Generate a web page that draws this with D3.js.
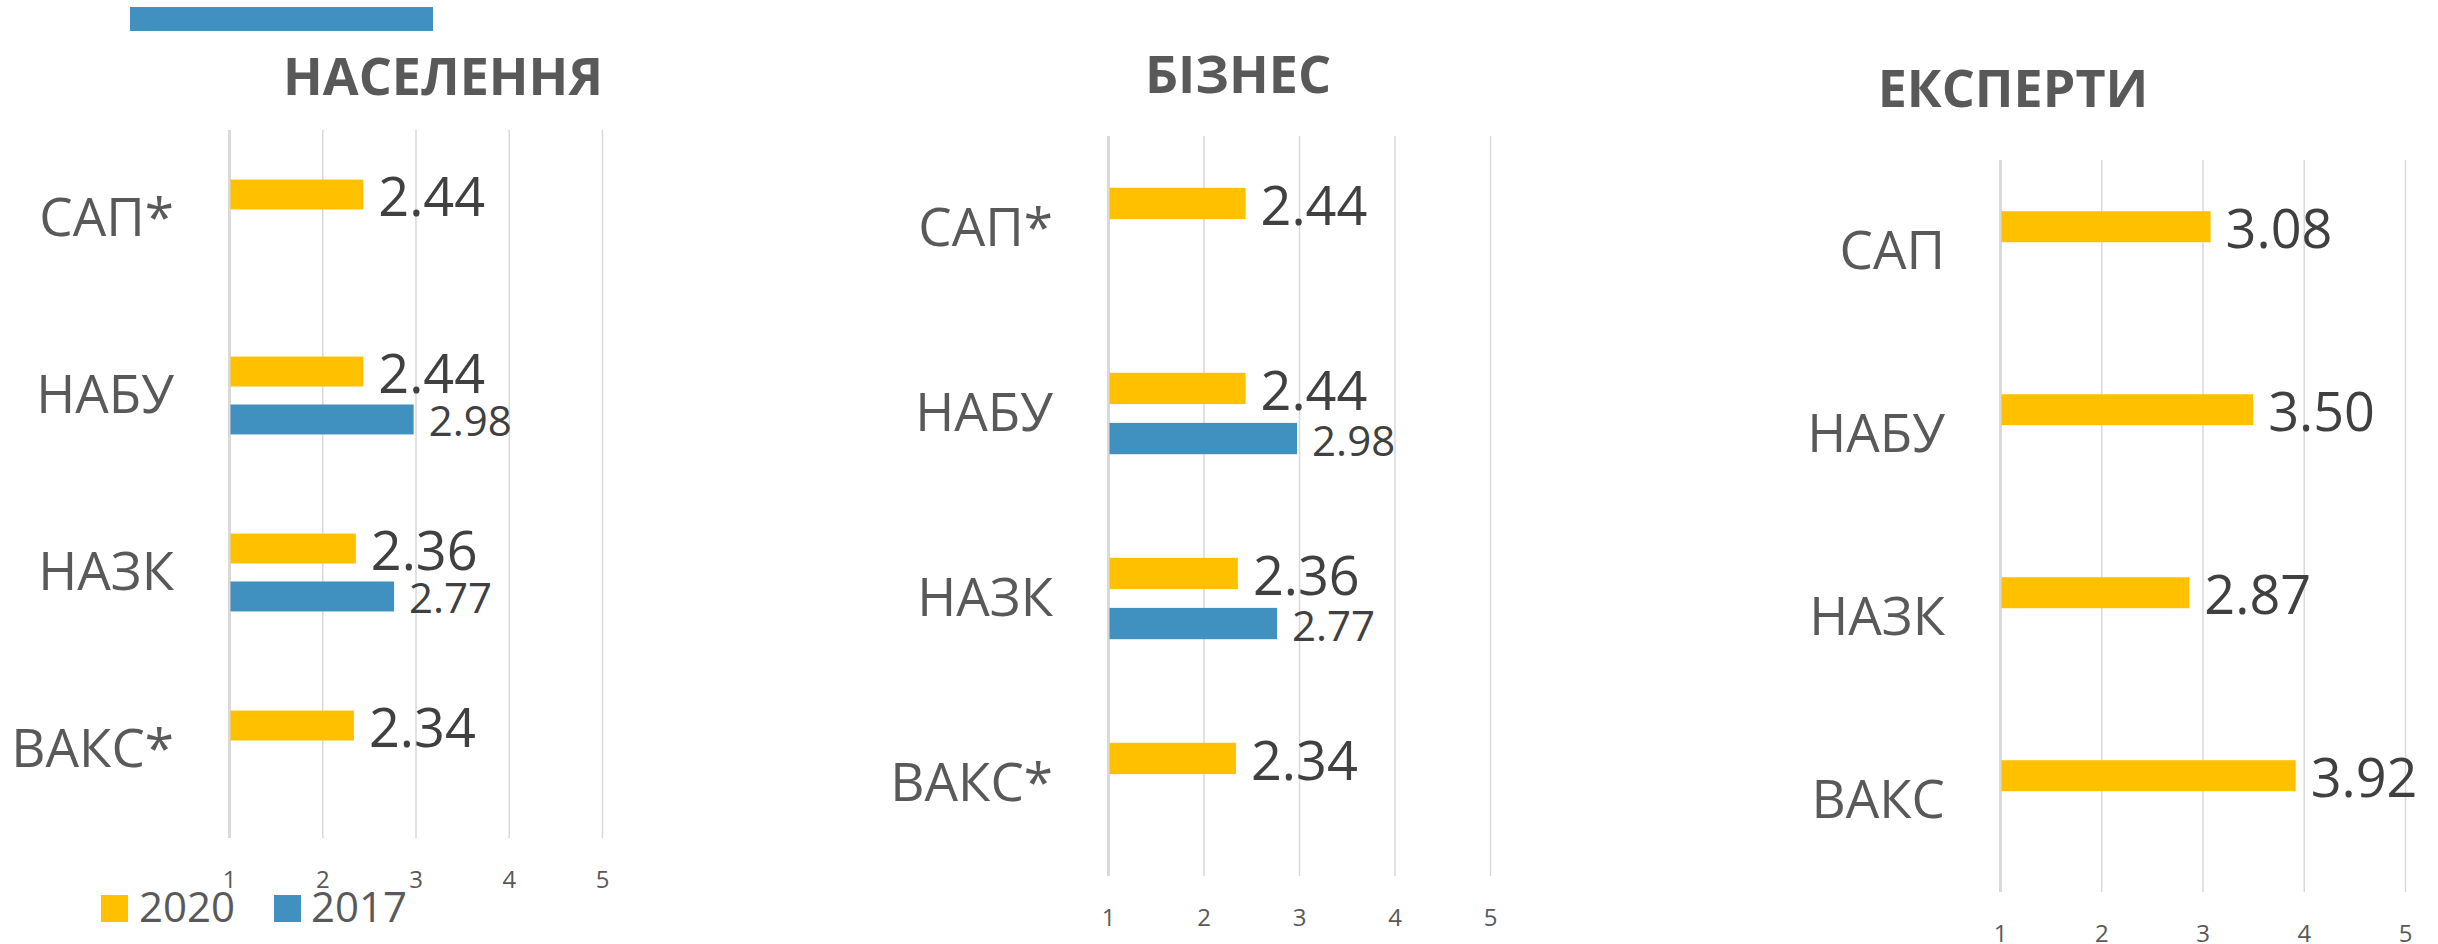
<!DOCTYPE html>
<html>
<head>
<meta charset="utf-8">
<script src="https://cdn.jsdelivr.net/npm/d3@7"></script>
<style>
  html, body { margin: 0; padding: 0; background: #ffffff; }
  svg { display: block; font-family: "Open Sans", sans-serif; }
</style>
</head>
<body>
<svg id="chart" width="2438" height="944"></svg>
<script>
// ---------------- DATA ----------------
const titles = ["НАСЕЛЕННЯ", "БІЗНЕС", "ЕКСПЕРТИ"];
const categoriesStar = ["САП*", "НАБУ", "НАЗК", "ВАКС*"];
const categoriesPlain = ["САП", "НАБУ", "НАЗК", "ВАКС"];
const seriesNames = ["2020", "2017"];
const population2020 = [2.44, 2.44, 2.36, 2.34];
const population2017 = [null, 2.98, 2.77, null];
const business2020 = [2.44, 2.44, 2.36, 2.34];
const business2017 = [null, 2.98, 2.77, null];
const experts2020 = [3.08, 3.50, 2.87, 3.92];
const experts2017 = [null, null, null, null];
const tickValues = [1, 2, 3, 4, 5];

// ---------------- STYLE / LAYOUT ----------------
const colors = { "2020": "#FFC000", "2017": "#4191C0" };
const gridColor = "#d9d9d9";
const labelColor = "#595959";
const valueColor = "#404040";

const panels = [
  { title: titles[0], cats: categoriesStar, s2020: population2020, s2017: population2017,
    x0: 229, x1: 602, y0: 130, y1: 838, titleX: 443, titleY: 95, legend: true },
  { title: titles[1], cats: categoriesStar, s2020: business2020, s2017: business2017,
    x0: 1108, x1: 1490, y0: 136, y1: 876, titleX: 1238, titleY: 93, legend: false },
  { title: titles[2], cats: categoriesPlain, s2020: experts2020, s2017: experts2017,
    x0: 2000, x1: 2405, y0: 160, y1: 892, titleX: 2013, titleY: 107, legend: false }
];

const svg = d3.select("#chart");
const fmt = d3.format(".2f");

// decorative blue strip at top-left (present in the original)
svg.append("rect")
  .attr("x", 130).attr("y", 7).attr("width", 303).attr("height", 24)
  .attr("fill", colors["2017"]);

panels.forEach(p => {
  const g = svg.append("g");
  const x = d3.scaleLinear().domain([1, 5]).range([p.x0, p.x1]);
  const y = d3.scaleBand().domain(p.cats).range([p.y0, p.y1]).padding(0);
  const B = y.bandwidth();
  const ySub = d3.scaleBand().domain(seriesNames)
    .range([B * 0.28, B * 0.72]).paddingInner(0.375).paddingOuter(0);

  // title
  g.append("text")
    .attr("x", p.titleX).attr("y", p.titleY)
    .attr("text-anchor", "middle")
    .attr("font-size", 52).attr("font-weight", 700)
    .attr("fill", labelColor)
    .text(p.title);

  // grid via axis
  const axis = d3.axisBottom(x).tickValues(tickValues).tickSize(-(p.y1 - p.y0)).tickFormat(d3.format("d"));
  const ax = g.append("g").attr("transform", `translate(0,${p.y1})`).call(axis);
  ax.select(".domain").remove();
  ax.selectAll(".tick line")
    .attr("stroke", gridColor)
    .attr("stroke-width", d => d === 1 ? 3 : 1.5);
  ax.selectAll(".tick text")
    .attr("y", 50).attr("dy", 0)
    .attr("font-size", 24).attr("font-family", "Open Sans")
    .attr("fill", labelColor);

  // category labels
  g.selectAll(".cat").data(p.cats).enter().append("text")
    .attr("x", p.x0 - 55)
    .attr("y", d => y(d) + B / 2 + 17)
    .attr("text-anchor", "end")
    .attr("font-size", 53)
    .attr("fill", labelColor)
    .text(d => d);

  // bars
  const rows = [];
  p.cats.forEach((c, i) => {
    if (p.s2020[i] != null) rows.push({ cat: c, s: "2020", v: p.s2020[i] });
    if (p.s2017[i] != null) rows.push({ cat: c, s: "2017", v: p.s2017[i] });
  });

  g.selectAll(".bar").data(rows).enter().append("rect")
    .attr("x", x(1) + 1.5)
    .attr("y", d => y(d.cat) + ySub(d.s))
    .attr("width", d => x(d.v) - x(1) - 1.5)
    .attr("height", ySub.bandwidth())
    .attr("fill", d => colors[d.s]);

  g.selectAll(".val").data(rows).enter().append("text")
    .attr("x", d => x(d.v) + 15)
    .attr("y", d => {
      const fs = d.s === "2020" ? 54 : 42;
      return y(d.cat) + ySub(d.s) + ySub.bandwidth() / 2 + fs * 0.357 + 2;
    })
    .attr("font-size", d => d.s === "2020" ? 54 : 42)
    .attr("fill", valueColor)
    .text(d => fmt(d.v));

  // legend
  if (p.legend) {
    const lg = g.append("g");
    const items = [
      { s: "2020", sx: 101, tx: 139 },
      { s: "2017", sx: 274, tx: 311 }
    ];
    items.forEach(it => {
      lg.append("rect").attr("x", it.sx).attr("y", 895).attr("width", 27).attr("height", 27)
        .attr("fill", colors[it.s]);
      lg.append("text").attr("x", it.tx).attr("y", 922)
        .attr("font-size", 42).attr("fill", labelColor).text(it.s);
    });
  }
});
</script>
</body>
</html>
